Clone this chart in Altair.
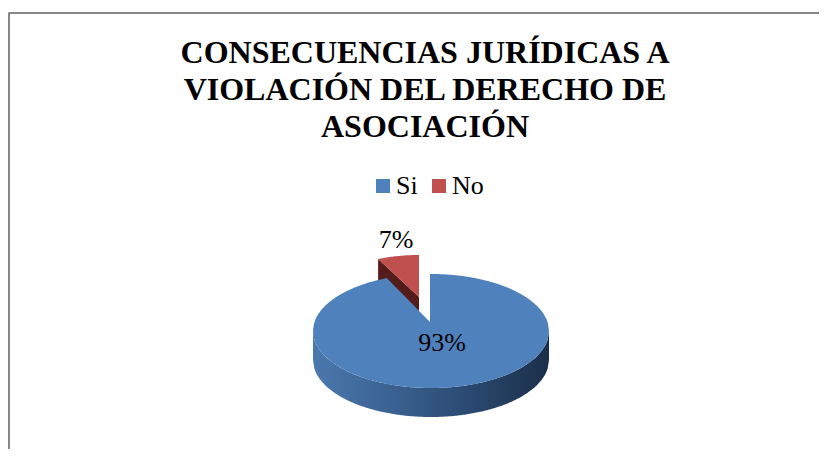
import math
import numpy as np
import pandas as pd
import altair as alt

categories = ["Si", "No"]
shares = [93, 7]
colors = ["#4f81bd", "#c0504d"]
title_lines = ["CONSECUENCIAS JURÍDICAS A", "VIOLACIÓN DEL DERECHO DE", "ASOCIACIÓN"]

W, H = 811, 441
OX, OY = 8, 8  # page margin

# pie geometry, in picture pixels
cx, cy, rx, ry, depth = 431, 331, 118, 57, 29
apex_x, apex_y = 430, 322
no_cx, no_cy, no_rx, no_ry = 419, 297, 96, 42
no_depth_l, no_depth_r = 22, 14
persp = 0.87

theta = math.radians(shares[1] / sum(shares) * 360)


def blue_top():
    lx = cx - rx * math.sin(theta * persp)
    ly = cy - ry * math.cos(theta * persp)
    xs = np.concatenate([np.linspace(cx - rx, lx, 90), np.linspace(lx + .01, apex_x - .01, 30),
                         np.linspace(apex_x, cx + rx, 110)])
    rows = []
    for x in xs:
        u = min(1, abs(x - cx) / rx)
        s = math.sqrt(1 - u * u)
        top = cy - ry * s
        if lx < x < apex_x:
            top = ly + (apex_y - ly) * (x - lx) / (apex_x - lx)
        rows.append({"x": x - OX, "y": top - OY, "y2": cy + ry * s - OY, "serie": categories[0]})
    return pd.DataFrame(rows)


def blue_side():
    rows = []
    for x in np.linspace(cx - rx, cx + rx, 180):
        u = abs(x - cx) / rx
        s = math.sqrt(max(0, 1 - u * u))
        y = cy + ry * s
        rows.append({"x": x - OX, "y": y - OY, "y2": y + depth - OY})
    return pd.DataFrame(rows)


def red_parts():
    left = no_cx - no_rx * math.sin(theta)
    lefty = no_cy - no_ry * math.cos(theta)
    top, side = [], []
    for x in np.linspace(left, no_cx, 30):
        u = (no_cx - x) / no_rx
        t = (x - left) / (no_cx - left)
        edge = lefty + (no_cy - lefty) * t
        top.append({"x": x - OX, "y": no_cy - no_ry * math.sqrt(1 - u * u) - OY, "y2": edge - OY,
                    "serie": categories[1]})
        side.append({"x": x - OX, "y": edge - OY,
                     "y2": edge + no_depth_l + (no_depth_r - no_depth_l) * t - OY})
    return pd.DataFrame(top), pd.DataFrame(side)


xs = alt.X("x:Q", scale=alt.Scale(domain=[0, W], range=[0, W]), axis=None)
ys = alt.Y("y:Q", scale=alt.Scale(domain=[0, H], range=[0, H]), axis=None)
color = alt.Color("serie:N", scale=alt.Scale(domain=categories, range=colors),
                  legend=alt.Legend(orient="none", legendX=362, legendY=163, direction="horizontal",
                                    title=None, symbolType="square", symbolSize=196, symbolStrokeWidth=0,
                                    labelFont="Liberation Serif", labelFontSize=26, labelColor="#000000",
                                    labelOffset=0, columnPadding=8, symbolOpacity=1, clipHeight=30))

red_top, red_side = red_parts()

side = alt.Chart(blue_side()).mark_area(
    line=False,
    color=alt.Gradient(gradient="linear", x1=0, x2=1, y1=0, y2=0, stops=[
        alt.GradientStop(offset=0, color="#4b79ae"),
        alt.GradientStop(offset=0.3, color="#3c6494"),
        alt.GradientStop(offset=0.65, color="#2a4a72"),
        alt.GradientStop(offset=1, color="#1b2f49"),
    ])).encode(x=xs, y=ys, y2="y2:Q")

red_s = alt.Chart(red_side).mark_area(color="#541c1a").encode(x=xs, y=ys, y2="y2:Q")
red_t = alt.Chart(red_top).mark_area().encode(x=xs, y=ys, y2="y2:Q", color=color)
blue_t = alt.Chart(blue_top()).mark_area().encode(x=xs, y=ys, y2="y2:Q", color=color)

labels = pd.DataFrame({
    "x": [442 - OX, 396 - OX],
    "y": [343 - OY, 240 - OY],
    "t": [f"{v}%" for v in shares],
})
text = alt.Chart(labels).mark_text(font="Liberation Serif", fontSize=26, color="#000000",
                                   baseline="middle", align="center").encode(x=xs, y=ys, text="t:N")

title_df = pd.DataFrame({
    "x": [425 - OX] * 3,
    "y": [63 - OY, 100 - OY, 137 - OY],
    "t": title_lines,
})
title = alt.Chart(title_df).mark_text(font="Liberation Serif", fontSize=32, fontWeight="bold", color="#000000",
                                      baseline="alphabetic", align="center").encode(x=xs, y=ys, text="t:N")

frame_top = alt.Chart(pd.DataFrame({"x": [0.5], "x2": [W], "y": [13 - OY]})).mark_rule(
    color="#868686", strokeWidth=2).encode(x=xs, x2="x2:Q", y=ys)
frame_left = alt.Chart(pd.DataFrame({"x": [1], "y": [13 - OY], "y2": [H]})).mark_rule(
    color="#868686", strokeWidth=2).encode(x=xs, y=ys, y2="y2:Q")

chart = alt.layer(frame_top, frame_left, side, red_s, red_t, blue_t, text, title).properties(
    width=W, height=H,
    padding=0,
    autosize=alt.AutoSizeParams(type="none"),
    background="#ffffff",
).configure_view(stroke=None)

chart.save("out.html", embed_options={"renderer": "svg", "actions": False})
